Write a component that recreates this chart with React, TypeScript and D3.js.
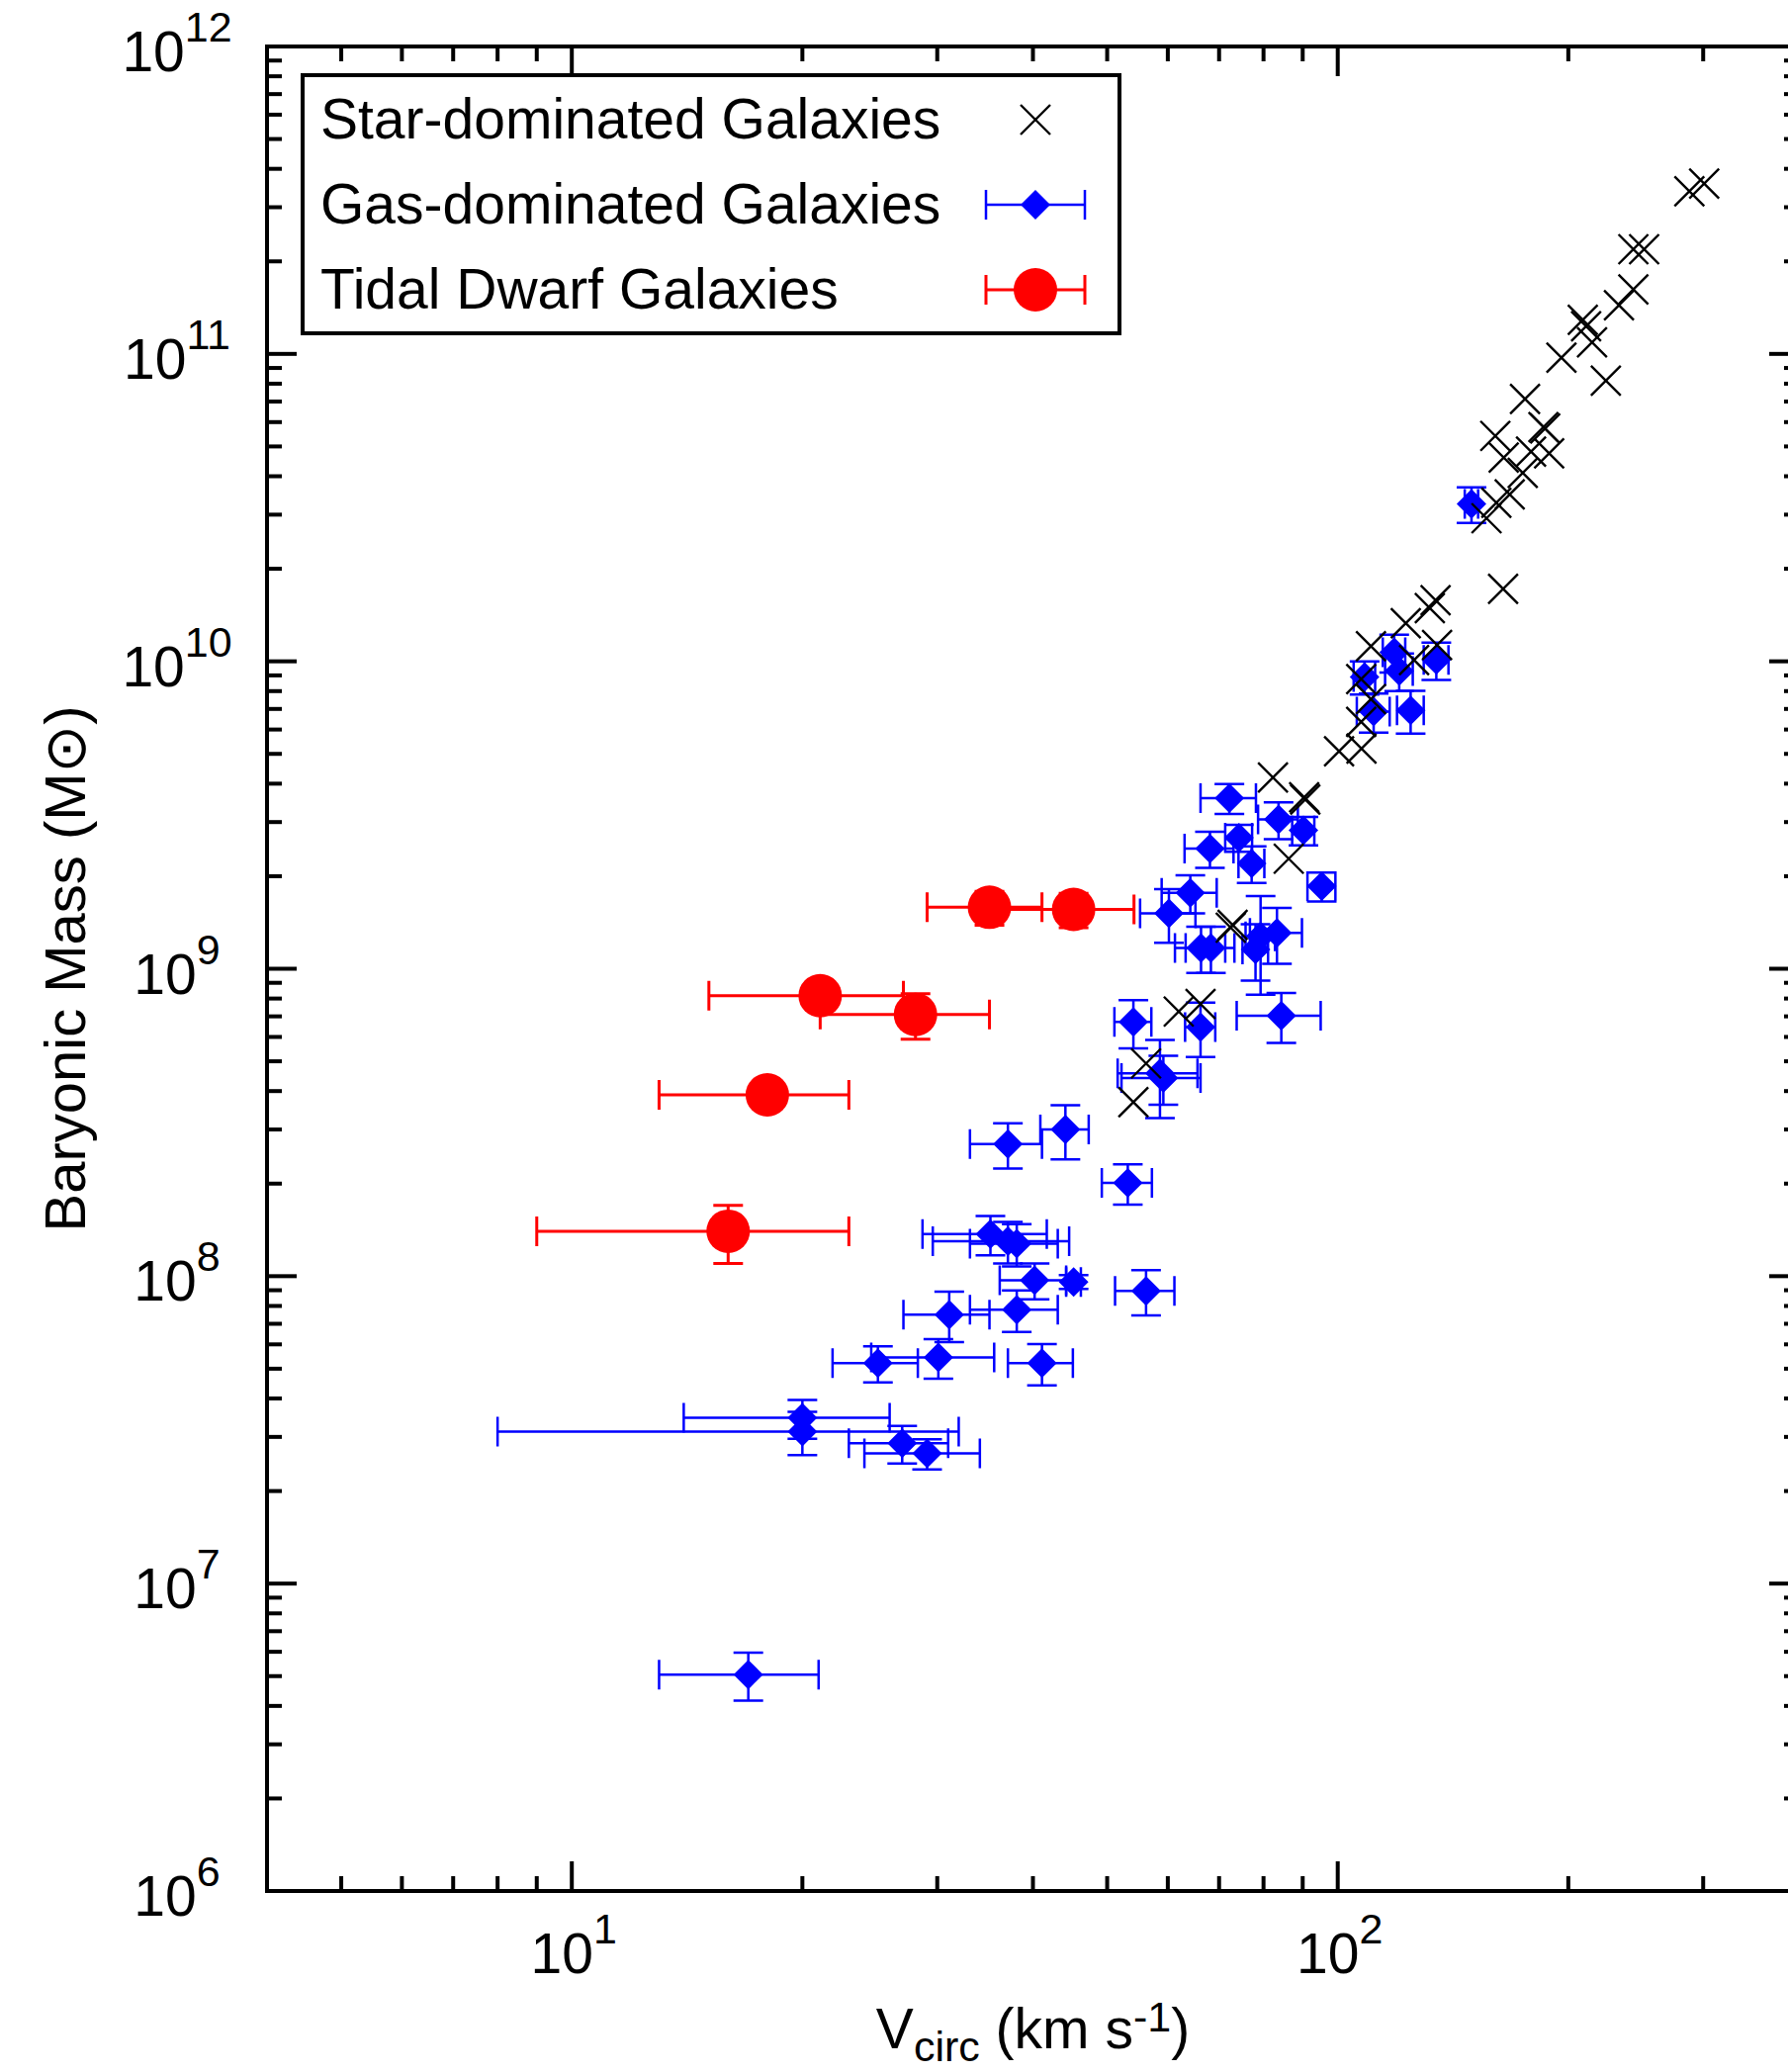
import React from 'react';
import * as d3 from 'd3';

// ---------- data ----------
// Star-dominated galaxies (crosses)
const starV = [287.8, 300.9, 243.2, 251.2, 243.2, 232.9, 208.9, 211.0, 214.8, 195.9, 223.9, 175.6, 185.6, 186.6, 160.6, 178.8, 188.8, 164.7, 174.4, 167.7, 161.1, 156.4, 164.4, 134.2, 131.9, 122.7, 134.8, 110.5, 125.8, 107.3, 110.5, 107.3, 107.4, 100.4, 82.3, 90.4, 90.7, 86.3, 72.9, 72.5, 66.2, 62.0, 56.2, 54.1];
const starM = [3.38e11, 3.58e11, 2.19e11, 2.19e11, 1.62e11, 1.44e11, 1.29e11, 1.23e11, 1.09e11, 9.72e10, 8.18e10, 7.14e10, 5.78e10, 5.72e10, 5.41e10, 4.81e10, 4.75e10, 4.6e10, 4.1e10, 3.49e10, 3.28e10, 2.92e10, 1.72e10, 1.58e10, 1.49e10, 1.33e10, 1.13e10, 1.12e10, 1.01e10, 8.75e9, 7.54e9, 6.35e9, 5.2e9, 5.1e9, 4.19e9, 3.61e9, 3.55e9, 2.28e9, 1.39e9, 1.36e9, 7.68e8, 7.26e8, 4.92e8, 3.68e8];

// Gas-dominated galaxies (diamonds with error bars)
const gasV = [149.5, 118.5, 120.3, 108.4, 134.5, 111.4, 124.5, 72.2, 83.7, 90.2, 74.3, 68.1, 77.2, 95.3, 64.2, 60.2, 79.3, 83.3, 78.1, 66.3, 68.3, 84.4, 54.1, 66.2, 58.6, 59.2, 44.1, 37.1, 53.2, 35.2, 37.1, 38.1, 40.2, 45.2, 56.2, 31.1, 38.1, 25.1, 30.1, 41.1, 27.0, 29.1, 20.0, 20.0, 17.0];
const gasVErr = [3, 4, 5, 3.5, 5, 5.5, 5, 6, 5, 3, 3, 5, 3, 4, 5.3, 5, 3.5, 6.5, 3, 5, 5, 10.6, 3, 3, 7, 7, 3.2, 4, 4, 6.5, 7.5, 5, 4, 1, 5, 4, 5, 3.2, 5.5, 4, 4, 5, 6, 12, 4];
const gasM = [3.25e10, 1.07e10, 9.3e9, 8.9e9, 1.01e10, 6.86e9, 6.92e9, 3.59e9, 3.06e9, 2.82e9, 2.67e9, 2.46e9, 2.2e9, 1.855e9, 1.765e9, 1.515e9, 1.274e9, 1.307e9, 1.155e9, 1.169e9, 1.169e9, 7.04e8, 6.71e8, 6.46e8, 4.57e8, 4.41e8, 3.0e8, 2.69e8, 2.01e8, 1.37e8, 1.3e8, 1.276e8, 9.7e7, 9.58e7, 8.96e7, 7.5e7, 7.78e7, 5.21e7, 5.44e7, 5.21e7, 2.86e7, 2.65e7, 3.46e7, 3.12e7, 5.06e6];
const gasMErr = [4.3e9, 1.5e9, 1.3e9, 1.1e9, 1.4e9, 1.0e9, 1.1e9, 0.4e9, 0.42e9, 0.3e9, 0.27e9, 0.33e9, 0.3e9, 0.2e9, 0.25e9, 0.3e9, 0.45e9, 0.27e9, 0.24e9, 0.2e9, 0.2e9, 1.3e8, 1.2e8, 1.3e8, 1.3e8, 0.8e8, 0.6e8, 0.45e8, 0.3e8, 0.2e8, 0.2e8, 0.2e8, 1.3e7, 0.5e7, 1.5e7, 1.4e7, 1.2e7, 0.7e7, 0.8e7, 0.8e7, 0.4e7, 0.3e7, 0.5e7, 0.5e7, 0.9e6];

// Tidal dwarf galaxies (circles with error bars)
const tdgV = [35.1, 45.2, 21.1, 28.1, 18.0, 16.0];
const tdgVErr = [6, 9, 6, 7, 5, 7];
const tdgM = [1.585e9, 1.56e9, 8.17e8, 7.1e8, 3.89e8, 1.4e8];
const tdgMErr = [0.2e9, 0.2e9, 0.8e8, 1.2e8, 0.4e8, 0.3e8];

const legendLabels = ['Star-dominated Galaxies', 'Gas-dominated Galaxies', 'Tidal Dwarf Galaxies'];

const xMajorTicks = [10, 100];
const xMajorExp = ['1', '2'];
const xMinorTicks = [5, 6, 7, 8, 9, 20, 30, 40, 50, 60, 70, 80, 90, 200, 300];
const yMajorExp = [6, 7, 8, 9, 10, 11, 12];
const yMinorMult = [2, 3, 4, 5, 6, 7, 8, 9];

const FONT = '"Liberation Sans", Arial, Helvetica, sans-serif';
const BLUE = '#0000ff';
const RED = '#ff0000';

export default function App() {
  const W = 1808;
  const H = 2095;
  const L = 270, R = 1819, T = 47, B = 1912;
  const x = d3.scaleLog().domain([4, 400]).range([L, R]);
  const y = d3.scaleLog().domain([1e6, 1e12]).range([B, T]);

  const majorLen = 30;
  const minorLen = 15;
  const cap = 15;

  const yMinor: number[] = [];
  for (let e = 6; e < 12; e++) for (const m of yMinorMult) yMinor.push(m * Math.pow(10, e));

  const ticks: React.ReactNode[] = [];
  xMinorTicks.forEach((v, i) => {
    ticks.push(<line key={'xb' + i} x1={x(v)} x2={x(v)} y1={B} y2={B - minorLen} />);
    ticks.push(<line key={'xt' + i} x1={x(v)} x2={x(v)} y1={T} y2={T + minorLen} />);
  });
  xMajorTicks.forEach((v, i) => {
    ticks.push(<line key={'xB' + i} x1={x(v)} x2={x(v)} y1={B} y2={B - majorLen} />);
    ticks.push(<line key={'xT' + i} x1={x(v)} x2={x(v)} y1={T} y2={T + majorLen} />);
  });
  yMinor.forEach((v, i) => {
    ticks.push(<line key={'yl' + i} x1={L} x2={L + minorLen} y1={y(v)} y2={y(v)} />);
    ticks.push(<line key={'yr' + i} x1={R} x2={R - minorLen} y1={y(v)} y2={y(v)} />);
  });
  yMajorExp.forEach((e, i) => {
    const v = Math.pow(10, e);
    ticks.push(<line key={'yL' + i} x1={L} x2={L + majorLen} y1={y(v)} y2={y(v)} />);
    ticks.push(<line key={'yR' + i} x1={R} x2={R - majorLen} y1={y(v)} y2={y(v)} />);
  });

  const crossPath = (cx: number, cy: number, s: number) =>
    `M${cx - s},${cy - s}L${cx + s},${cy + s}M${cx - s},${cy + s}L${cx + s},${cy - s}`;
  const diamondPath = (cx: number, cy: number, s: number) =>
    `M${cx},${cy - s}L${cx + s},${cy}L${cx},${cy + s}L${cx - s},${cy}Z`;

  const errPath = (v: number, ev: number, m: number, em: number) => {
    const cx = x(v), cy = y(m);
    const x0 = x(v - ev), x1 = x(v + ev);
    const y0 = y(m - em), y1 = y(m + em);
    return `M${x0},${cy}L${x1},${cy}` +
      `M${x0},${cy - cap}L${x0},${cy + cap}M${x1},${cy - cap}L${x1},${cy + cap}` +
      `M${cx},${y0}L${cx},${y1}` +
      `M${cx - cap},${y0}L${cx + cap},${y0}M${cx - cap},${y1}L${cx + cap},${y1}`;
  };

  // legend geometry
  const lgX = 306, lgY = 76, lgW = 826, lgH = 261;
  const symX = 1047;
  const rowY = [121, 207, 293];
  const textX = 324;

  return (
    <svg width={W} height={H} style={{ position: 'absolute', left: 0, top: 0, background: '#fff' }}
      xmlns="http://www.w3.org/2000/svg" fontFamily={FONT}>
      <rect x={0} y={0} width={W} height={H} fill="#fff" />

      {/* data: gas-dominated */}
      <g>
        {gasV.map((v, i) => (
          <g key={'g' + i}>
            <path d={errPath(v, gasVErr[i], gasM[i], gasMErr[i])} stroke={BLUE} strokeWidth={2.5} fill="none" />
            <path d={diamondPath(x(v), y(gasM[i]), 15)} fill={BLUE} />
          </g>
        ))}
      </g>
      {/* data: star-dominated */}
      <g stroke="#000" strokeWidth={2.4} fill="none">
        {starV.map((v, i) => (
          <path key={'s' + i} d={crossPath(x(v), y(starM[i]), 15)} />
        ))}
      </g>
      {/* data: TDGs */}
      <g>
        {tdgV.map((v, i) => (
          <g key={'t' + i}>
            <path d={errPath(v, tdgVErr[i], tdgM[i], tdgMErr[i])} stroke={RED} strokeWidth={3} fill="none" />
            <circle cx={x(v)} cy={y(tdgM[i])} r={22} fill={RED} />
          </g>
        ))}
      </g>

      {/* frame and ticks */}
      <g stroke="#000" strokeWidth={4}>{ticks}</g>
      <rect x={L} y={T} width={R - L} height={B - T} fill="none" stroke="#000" strokeWidth={4} />

      {/* y tick labels */}
      {yMajorExp.map((e) => (
        <text key={'yt' + e} x={179} y={y(Math.pow(10, e)) + 25} fontSize={57} textAnchor="middle" fill="#000">
          10<tspan fontSize={43} dy={-30}>{String(e)}</tspan>
        </text>
      ))}
      {/* x tick labels */}
      {xMajorTicks.map((v, i) => (
        <text key={'xl' + i} x={x(v) + 2} y={1995} fontSize={57} textAnchor="middle" fill="#000">
          10<tspan fontSize={43} dy={-30}>{xMajorExp[i]}</tspan>
        </text>
      ))}

      {/* axis titles */}
      <text x={(L + R) / 2} y={2071} fontSize={57} textAnchor="middle" fill="#000">
        V<tspan fontSize={43} dy={13}>circ</tspan><tspan dy={-13}> (km s</tspan><tspan fontSize={43} dy={-17}>-1</tspan><tspan dy={17}>)</tspan>
      </text>
      <text transform={`translate(86, ${(T + B) / 2}) rotate(-90)`} fontSize={58} textAnchor="middle" fill="#000">
        Baryonic Mass (M<tspan fontFamily='"DejaVu Sans", sans-serif'>⊙</tspan>)
      </text>

      {/* legend */}
      <rect x={lgX} y={lgY} width={lgW} height={lgH} fill="#fff" stroke="#000" strokeWidth={4} />
      {legendLabels.map((t, i) => (
        <text key={'lg' + i} x={textX} y={rowY[i] + 19} fontSize={57} fill="#000">{t}</text>
      ))}
      <path d={crossPath(symX, rowY[0], 15)} stroke="#000" strokeWidth={2.4} fill="none" />
      <path d={`M${symX - 50},${rowY[1]}L${symX + 50},${rowY[1]}M${symX - 50},${rowY[1] - cap}L${symX - 50},${rowY[1] + cap}M${symX + 50},${rowY[1] - cap}L${symX + 50},${rowY[1] + cap}`}
        stroke={BLUE} strokeWidth={2.5} fill="none" />
      <path d={diamondPath(symX, rowY[1], 15)} fill={BLUE} />
      <path d={`M${symX - 50},${rowY[2]}L${symX + 50},${rowY[2]}M${symX - 50},${rowY[2] - cap}L${symX - 50},${rowY[2] + cap}M${symX + 50},${rowY[2] - cap}L${symX + 50},${rowY[2] + cap}`}
        stroke={RED} strokeWidth={3} fill="none" />
      <circle cx={symX} cy={rowY[2]} r={22} fill={RED} />
    </svg>
  );
}
